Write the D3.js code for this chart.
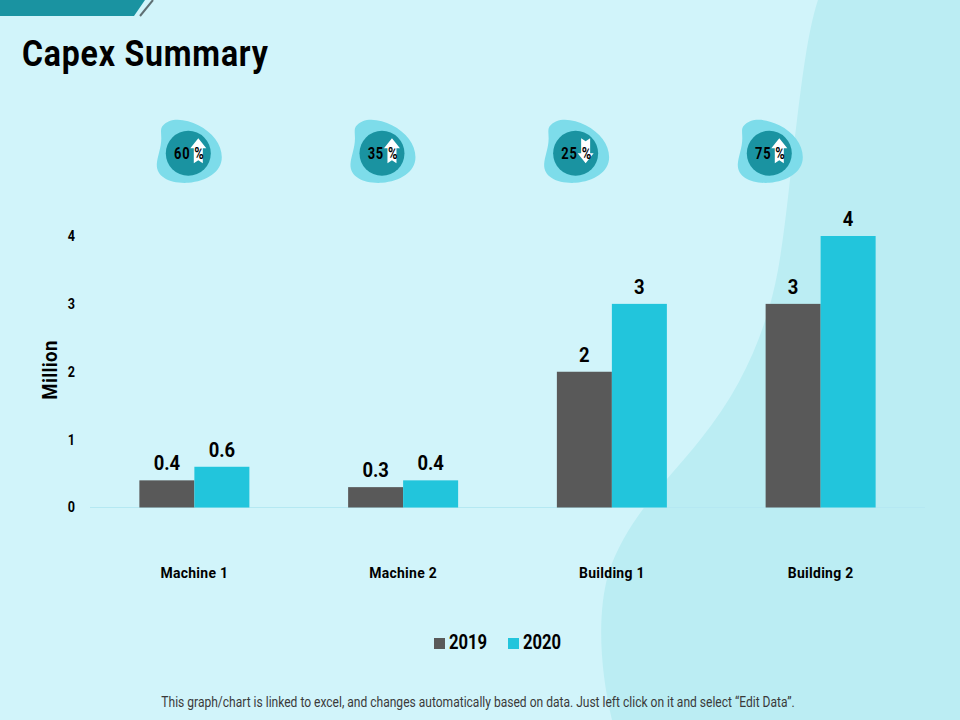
<!DOCTYPE html>
<html><head><meta charset="utf-8">
<script src="https://cdnjs.cloudflare.com/ajax/libs/d3/7.8.5/d3.min.js"></script>
<style>
html,body{margin:0;padding:0;background:#d1f4fa}
svg{display:block}
text{font-family:"Roboto",sans-serif;font-weight:700;fill:#000}
</style></head><body>
<svg id="c" width="960" height="720"></svg>
<script>
const categories=["Machine 1","Machine 2","Building 1","Building 2"];
const series=["2019","2020"];
const values2019=[0.4,0.3,2,3];
const values2020=[0.6,0.4,3,4];
const yTicks=[0,1,2,3,4];
const percents=["60 %","35 %","25 %","75 %"];
const directions=["up","up","down","up"];
const colors=["#595959","#22c5dc"];

const svg=d3.select("#c");
function squeeze(sel,f){
  sel.each(function(){
    this.setAttribute("textLength",(this.getComputedTextLength()*f).toFixed(2));
    this.setAttribute("lengthAdjust","spacingAndGlyphs");
  });
}
svg.append("rect").attr("width",960).attr("height",720).attr("fill","#d1f4fa");
svg.append("path").attr("fill","#bbedf3")
 .attr("d","M818,0 C808,30 802,80 797,120 C790,175 786,225 778,270 C768,325 745,385 700,440 C668,480 625,520 608,575 C597,615 600,670 612,720 L960,720 L960,0 Z");
svg.append("path").attr("fill","#1a93a1").attr("d","M0,0 L145,0 L134,16 L0,16 Z");
svg.append("path").attr("fill","none").attr("stroke","#5f6f73").attr("stroke-width",2).attr("d","M153,0 L140,16");

svg.append("text").attr("x",22).attr("y",66).attr("font-size",36).attr("letter-spacing",0.9).text("Capex Summary").call(squeeze,0.89);

const x0=d3.scaleBand().domain(categories).range([90,925]);
const x1=d3.scaleBand().domain(series).range([x0.bandwidth()/2-55,x0.bandwidth()/2+55]);
const y=d3.scaleLinear().domain([0,4]).range([507.5,236]);

svg.append("line").attr("x1",90).attr("x2",925).attr("y1",y(0)).attr("y2",y(0)).attr("stroke","#b5e8f2").attr("stroke-width",1);

const yAxis=svg.append("g").attr("transform","translate(78,0)").call(d3.axisLeft(y).tickValues(yTicks).tickSize(0).tickPadding(3).tickFormat(d3.format("d")));
yAxis.select(".domain").remove();
yAxis.selectAll("text").attr("font-size",14).style("font-family","Roboto,sans-serif").style("font-weight",700).call(squeeze,0.9);
svg.append("text").attr("transform","translate(57,370) rotate(-90)").attr("text-anchor","middle").attr("font-size",20).attr("letter-spacing",0.4).text("Million").call(squeeze,0.93);

const xAxis=svg.append("g").attr("transform","translate(0,567)").call(d3.axisBottom(x0).tickSize(0).tickPadding(0));
xAxis.select(".domain").remove();
xAxis.selectAll("text").attr("font-size",15).attr("dy","0.75em").attr("letter-spacing",0.3).style("font-family","Roboto,sans-serif").style("font-weight",700).call(squeeze,0.93);

[values2019,values2020].forEach((vals,si)=>{
  const g=svg.append("g");
  g.selectAll("rect").data(vals).join("rect")
   .attr("x",(d,i)=>x0(categories[i])+x1(series[si]))
   .attr("width",x1.bandwidth())
   .attr("y",d=>y(d))
   .attr("height",d=>y(0)-y(d))
   .attr("fill",colors[si]);
  g.selectAll("text").data(vals).join("text")
   .attr("x",(d,i)=>x0(categories[i])+x1(series[si])+x1.bandwidth()/2)
   .attr("y",d=>y(d)-10)
   .attr("text-anchor","middle").attr("font-size",20)
   .text(d=>d).call(squeeze,0.92);
});

const badgeX=d3.scalePoint().domain(percents).range([188.3,769.3]);
const blob="M-26,-27 C-18,-37 -2,-34 10,-28 C24,-21 33.5,-9 33.5,4 C33.5,19 18,28 0,29.5 C-18,30.5 -32,24 -31.5,11 C-31,3 -27,-5 -27,-15 C-27,-21 -28,-24 -26,-27 Z";
const up="M10,-15 L18,-5 L14.5,-5 L14.5,10 L10,7 L5.5,10 L5.5,-5 L2,-5 Z";
const down="M5.5,-15 L10,-12 L14.5,-15 L14.5,0 L18,0 L10,10 L2,0 L5.5,0 Z";
percents.forEach((p,i)=>{
  const g=svg.append("g").attr("transform",`translate(${badgeX(p)},153.3)`);
  g.append("path").attr("d",blob).attr("fill","#7ddcea");
  g.append("circle").attr("r",22.5).attr("fill","#1a93a1");
  g.append("path").attr("d",directions[i]==="up"?up:down).attr("fill","#fff");
  g.append("text").attr("x",1).attr("y",6).attr("text-anchor","middle").attr("font-size",16.5).attr("letter-spacing",1).text(p).call(squeeze,0.78);
});

const leg=[434,508];
series.forEach((s,i)=>{
  svg.append("rect").attr("x",leg[i]).attr("y",638).attr("width",11).attr("height",11).attr("fill",colors[i]);
  svg.append("text").attr("x",leg[i]+15).attr("y",649).attr("font-size",20).text(s).call(squeeze,0.83);
});

svg.append("text").attr("x",478).attr("y",707).attr("text-anchor","middle").attr("font-size",14).style("font-weight",400).style("fill","#3a3a3a")
 .text("This graph/chart is linked to excel, and changes automatically based on data. Just left click on it and select “Edit Data”.").call(squeeze,0.86);
</script>
</body></html>
